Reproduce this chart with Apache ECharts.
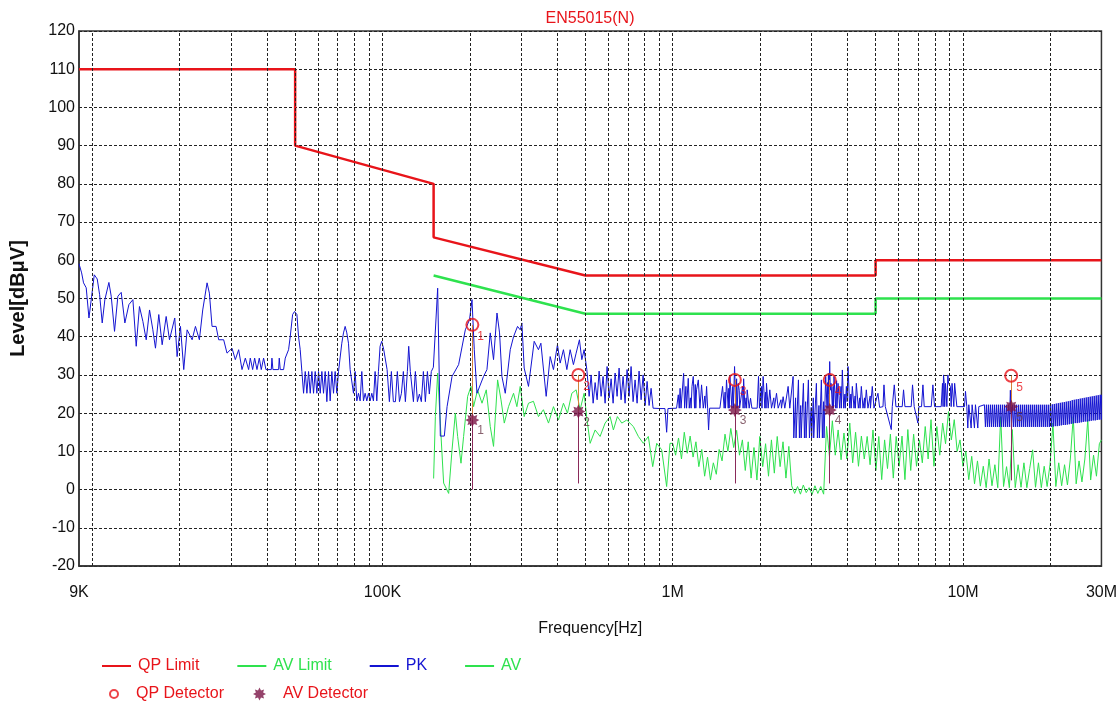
<!DOCTYPE html>
<html>
<head>
<meta charset="utf-8">
<script src="https://cdn.jsdelivr.net/npm/echarts@6/dist/echarts.min.js"></script>
<style>
  html, body { margin: 0; padding: 0; background: #fff; }
  #chart { width: 1120px; height: 705px; }
</style>
</head>
<body>
<div id="chart"></div>
<script>
// frequencies in kHz, levels in dBuV

const qpLimitFreq = [9, 50, 50, 150, 150, 500, 5000, 5000, 30000];
const qpLimitLevel = [110, 110, 90, 80, 66, 56, 56, 60, 60];

const avLimitFreq = [150, 500, 5000, 5000, 30000];
const avLimitLevel = [56, 46, 46, 50, 50];

// detector readings (marker number, frequency, QP, AV, bottom of the stick)
const detLabels = ['1', '2', '3', '4', '5'];
const detFreq = [204, 473, 1637, 3475, 14660];
const qpLevel = [43.1, 30.0, 28.7, 28.7, 29.8];
const avLevel = [18.2, 20.4, 20.8, 20.8, 21.7];
const stickBottom = [0.0, 1.6, 1.6, 1.6, 2.4];

const xTickValues = [9, 100, 1000, 10000, 30000];
const xTickLabels = ['9K', '100K', '1M', '10M', '30M'];
const gridFreqs = [10, 20, 30, 40, 50, 60, 70, 80, 90,
  100, 200, 300, 400, 500, 600, 700, 800, 900,
  1000, 2000, 3000, 4000, 5000, 6000, 7000, 8000, 9000,
  10000, 20000];

const pkData = [
  [9.0,59.1],[9.19,56.7],[9.33,54.1],[9.53,52.8],[9.74,44.9],[9.95,50.6],[10.16,56.2],[10.40,55.1],[10.60,51.0],
  [10.82,43.6],[11.05,49.7],[11.41,54.2],[11.62,50.6],[11.93,41.4],[12.25,50.6],[12.58,51.6],[12.95,43.6],
  [13.37,48.4],[13.80,49.7],[14.17,37.5],[14.54,47.9],[14.94,44.0],[15.34,39.2],[15.75,47.0],[16.17,41.8],
  [16.51,37.0],[16.95,45.8],[17.41,37.9],[17.97,45.3],[18.45,39.2],[19.24,44.9],[19.60,34.8],[20.13,42.7],
  [20.66,31.4],[21.22,41.8],[22.08,39.2],[22.67,42.7],[23.39,39.2],[24.02,47.0],[24.86,54.1],[25.32,51.4],
  [25.86,42.7],[26.70,42.7],[27.26,39.2],[28.36,39.2],[29.12,35.7],[30.30,37.0],[31.11,34.0],[31.94,36.6],
  [32.80,31.4],[33.68,34.4],[34.57,31.4],[35.03,34.4],[35.69,31.4],[36.26,34.4],[36.94,31.4],[37.62,34.4],
  [38.22,31.4],[38.93,34.4],[39.66,31.4],[41.38,31.4],[41.59,34.4],[41.92,31.4],[43.85,31.4],[44.08,34.4],
  [44.43,31.4],[45.62,31.4],[46.23,34.4],[47.46,36.6],[48.09,40.0],[49.0,45.8],[49.77,46.6],[50.71,45.8],
  [51.37,40.0],[52.05,36.6],[52.75,30.9],[53.46,25.2],[54.17,30.9],[54.88,25.2],[55.62,30.9],[56.36,25.2],
  [57.10,30.9],[57.86,25.2],[58.63,30.9],[59.40,25.2],[60.20,30.9],[61.00,25.2],[61.81,30.9],[62.63,25.2],
  [63.46,30.9],[64.30,23.0],[65.16,30.9],[66.02,23.2],[66.90,30.9],[67.79,25.2],[68.69,30.9],[69.60,25.2],
  [70.53,30.9],[72.4,38.3],[73.38,41.0],[74.35,42.7],[75.34,41.0],[76.34,38.3],[77.35,31.4],[78.39,30.9],
  [79.43,25.2],[80.48,30.9],[81.56,23.2],[82.64,25.2],[83.73,23.2],[84.85,30.9],[85.98,23.2],[87.12,25.2],
  [88.29,23.2],[89.45,25.2],[90.64,23.2],[91.86,25.2],[93.06,23.2],[94.30,30.9],[95.56,23.2],[96.83,30.9],
  [98.1,37.5],[99.4,38.8],[101.0,36.6],[103.7,31.4],[105.6,23.0],[107.3,30.9],[109.0,23.0],[110.8,23.0],
  [112.5,30.9],[114.4,23.0],[116.2,25.2],[118.0,30.9],[119.9,23.0],[121.8,30.9],[123.1,37.5],[124.7,30.9],
  [127.8,23.0],[129.8,30.9],[131.9,23.0],[134.0,25.0],[136.1,23.0],[138.3,30.9],[140.5,23.0],[142.8,30.9],
  [145.0,25.0],[147.3,30.9],[149.7,32.0],
  [154.9,52.7],[158.2,14.0],[163.3,14.0],[166.9,21.7],[173.6,29.6],[182.9,32.7],[192.9,41.8],[199.5,44.5],
  [203.4,49.7],[207.1,36.6],[211.6,25.2],[222.9,29.6],[229.0,31.4],[235.1,41.0],[241.3,34.0],[248.0,46.2],
  [253.1,41.0],[257.9,29.6],[264.8,25.2],[275.5,36.6],[282.8,40.0],[291.9,42.7],[298.2,41.8],[302.2,43.6],
  [307.7,31.8],[318.4,27.0],[333.1,38.8],[344.6,36.6],[351.3,38.3],[366.4,24.4],[378.2,34.8],[388.2,31.4],
  [400.7,37.9],[409.4,33.1],[420.2,36.6],[431.7,31.4],[443.1,36.6],[454.8,32.7],[464.7,35.7],[477.0,39.2],
  [486.2,34.0],[495.1,36.6],[505.8,31.4],[515.2,24.4],[523.4,30.0],[531.8,22.6],[540.3,28.0],[548.9,23.5],
  [557.6,31.0],[566.5,24.4],[575.4,29.6],[584.8,22.6],[594.0,32.2],[603.6,24.0],[613.3,29.0],[623.1,22.6],
  [633.1,30.5],[643.1,24.4],[653.4,31.8],[663.7,23.5],[674.4,29.6],[685.2,22.6],[696.2,31.4],[707.3,24.4],
  [718.6,32.2],[730.2,23.0],[741.8,28.7],[753.7,22.6],[765.6,31.0],[778.1,23.5],[790.5,30.0],[803.2,22.0],
  [816.0,28.3],[829.0,22.0],[842.3,26.5],[855.7,21.3],[903.6,21.2],[940.2,21.2],[952.8,15.0],[962.7,21.2],
  [1031,21.3],[1045,24.8],[1053,21.3],[1060,26.5],[1068,21.3],[1081,21.3],[1090,30.4],[1099,21.3],[1110,27.0],
  [1116,21.3],[1122,21.3],[1131,29.1],[1140,21.3],[1150,24.0],[1157,21.3],[1165,27.0],[1177,29.6],[1189,21.3],
  [1196,27.5],[1201,21.3],[1208,26.1],[1225,28.7],[1241,21.3],[1257,27.4],[1274,21.3],[1290,24.5],[1297,21.3],
  [1308,27.0],[1319,21.3],[1329,15.6],[1340,21.3],[1454,21.3],[1485,27.0],[1504,21.3],[1515,25.5],[1520,21.3],
  [1532,28.7],[1553,21.3],[1560,26.5],[1565,21.3],[1574,29.6],[1599,21.3],[1610,27.0],[1618,21.3],[1633,32.2],
  [1651,21.3],[1660,29.0],[1667,21.3],[1682,27.8],[1695,26.0],[1700,21.3],[1713,21.3],[1740,27.0],[1748,21.3],
  [1755,29.0],[1773,21.3],[1790,24.0],[1797,21.3],[1805,26.1],[1834,21.3],[1854,23.9],[1874,21.3],[1954,21.3],
  [1975,29.6],[1990,21.3],[2006,21.3],[2020,27.0],[2030,21.3],[2049,29.6],[2077,21.3],[2090,25.5],[2097,21.3],
  [2104,27.8],[2132,21.3],[2160,26.1],[2189,21.3],[2230,24.0],[2240,21.3],[2278,25.2],[2308,21.3],[2360,23.5],
  [2370,21.3],[2401,24.3],[2433,21.3],[2498,27.0],[2531,21.3],[2599,29.6],[2613,13.5],[2650,24.0],[2660,13.5],
  [2697,13.5],[2711,28.7],[2732,13.5],[2760,22.0],[2770,13.5],[2798,13.5],[2820,27.8],[2843,13.5],[2870,23.0],
  [2880,13.5],[2911,13.5],[2934,28.7],[2958,13.5],[3000,21.5],[3010,13.5],[3050,24.0],[3060,13.5],[3102,13.5],
  [3126,27.8],[3151,13.5],[3190,22.0],[3200,13.5],[3227,13.5],[3252,28.7],[3278,13.5],[3310,23.0],[3320,13.5],
  [3348,13.5],[3365,29.6],[3401,21.3],[3420,28.0],[3430,21.3],[3438,30.4],[3460,25.0],[3474,33.5],[3490,26.0],
  [3511,27.8],[3530,25.0],[3548,21.3],[3570,27.0],[3580,21.3],[3595,29.6],[3620,25.5],[3643,21.3],[3670,28.5],
  [3680,21.3],[3711,27.8],[3735,25.0],[3760,21.3],[3800,27.0],[3810,21.3],[3841,31.3],[3882,21.3],[3920,25.0],
  [3930,21.3],[3965,27.0],[3990,23.0],[4018,32.2],[4071,21.3],[4110,25.0],[4120,21.3],[4158,27.0],[4213,21.3],
  [4250,24.5],[4260,21.3],[4291,27.8],[4360,21.3],[4410,24.0],[4420,21.3],[4465,27.0],[4524,21.3],[4580,24.0],
  [4590,21.3],[4645,26.1],[4706,21.3],[4790,24.5],[4800,21.3],[4871,27.0],[4936,21.3],[5094,25.2],[5162,21.5],
  [5302,21.7],[5344,27.4],[5400,21.7],[5662,15.7],[5707,21.7],[5799,27.4],[5875,21.7],[6176,21.7],[6242,26.1],
  [6310,21.7],[6632,21.7],[6703,27.4],[6792,21.7],[6992,17.4],[7048,21.7],[7199,21.7],[7278,27.4],[7355,21.7],
  [7774,21.7],[7877,27.4],[7982,21.7],[8414,21.7],[8500,27.8],[8540,21.7],[8570,30.0],[8620,27.8],[8650,21.7],
  [8707,27.8],[8760,27.8],[8800,21.7],[8872,30.0],[8920,27.8],[8989,27.8],[9050,27.0],[9108,21.7],[9170,27.8],
  [9230,27.8],[9300,21.7],[9360,27.8],[9426,27.8],[9527,21.7],[10122,21.7],[10202,25.7],[10310,21.7],
  [10392,16.1],[10474,22.2],[10670,16.1],[10755,22.2],[10955,16.1],[11042,22.2],[11250,16.1],[11338,21.7],
  [11855,22.2],[11949,16.4],[12044,22.2],[12140,16.4],[12236,22.2],[12334,16.4],[12432,22.2],[12531,16.4],
  [12630,22.2],[12731,16.4],[12832,22.2],[12934,16.4],[13037,22.2],[13140,16.4],[13245,22.2],[13350,16.4],
  [13456,22.2],[13563,16.4],[13671,22.2],[13780,16.4],[13890,22.2],[14000,16.4],[14111,22.2],[14224,16.4],
  [14337,22.2],[14451,16.4],[14566,26.0],[14681,16.4],[14798,22.2],[14916,16.4],[15035,22.2],[15154,16.4],
  [15275,22.2],[15396,16.4],[15519,22.2],[15642,16.4],[15766,22.2],[15892,16.4],[16018,22.2],[16145,16.4],
  [16274,22.2],[16403,16.4],[16534,22.2],[16665,16.4],[16798,22.2],[16931,16.4],[17066,22.2],[17202,16.4],
  [17338,22.2],[17476,16.4],[17615,22.2],[17755,16.4],[17896,22.2],[18039,16.4],[18182,22.2],[18327,16.4],
  [18472,22.2],[18619,16.4],[18767,22.2],[18916,16.4],[19067,22.2],[19218,16.4],[19371,22.2],[19525,16.4],
  [19680,22.2],[19837,16.4],[19995,22.2],[20154,16.4],[20314,22.3],[20475,16.5],[20639,22.4],[20803,16.6],
  [20968,22.5],[21135,16.6],[21303,22.6],[21472,16.7],[21643,22.7],[21815,16.8],[21988,22.8],[22163,16.9],
  [22340,22.9],[22517,16.9],[22696,23.0],[22877,17.0],[23059,23.1],[23242,17.1],[23427,23.2],[23613,17.2],
  [23801,23.4],[23990,17.3],[24181,23.5],[24373,17.4],[24567,23.6],[24762,17.4],[24959,23.7],[25157,17.5],
  [25357,23.8],[25559,17.6],[25762,23.9],[25967,17.7],[26174,24.0],[26382,17.8],[26592,24.1],[26803,17.8],
  [27016,24.2],[27231,17.9],[27447,24.3],[27666,18.0],[27886,24.4],[28107,18.1],[28332,24.5],[28557,18.1],
  [28784,24.6],[29013,18.2],[29243,24.7],[29476,18.3],[29710,24.8],[29946,18.3],[30000,24.8]
];

const avData = [
  [150,2.9],[152.1,19.1],[154.9,30.5],[158.2,17.4],[162.4,1.7],[169.0,-1.0],[173.6,10.4],[178.2,20.0],
  [181.5,13.9],[186.4,6.9],[190.3,13.9],[196.5,24.4],[201.8,27.0],[206.0,21.7],[212.6,26.1],[220.2,22.6],
  [227.8,26.1],[235.1,16.5],[241.3,11.3],[249.2,28.7],[256.0,23.5],[262.8,17.4],[271.8,21.7],[282.8,25.2],
  [290.4,21.7],[298.2,27.0],[307.7,19.1],[318.4,22.6],[331.2,23.1],[344.6,19.1],[358.5,20.9],[373.2,17.4],
  [388.2,21.7],[403.9,18.2],[420.2,22.6],[433.8,20.0],[449.1,25.2],[464.7,26.1],[479.5,20.9],[495.1,25.2],
  [505.8,18.7],[519.3,12.1],[540.3,15.6],[562.0,13.9],[584.8,17.4],[608.4,19.1],[624.5,15.6],[644.7,19.1],
  [667.4,17.4],[694.4,18.2],[731.6,16.5],[761.3,13.9],[792.0,12.1],[824.0,13.9],[853.1,6.0],[880.6,12.1],
  [916.2,10.4],[952.8,0.8],[978.3,12.1],
  [1000,12.1],[1023,9.0],[1047,13.5],[1072,8.0],[1096,15.0],[1122,9.5],[1148,14.0],[1175,8.5],[1202,12.5],
  [1230,6.0],[1259,10.5],[1288,3.5],[1318,8.5],[1349,2.5],[1380,7.0],[1413,4.0],[1445,10.5],[1479,7.5],
  [1514,14.5],[1549,10.0],[1585,16.0],[1622,11.0],[1660,15.5],[1698,9.0],[1738,13.0],[1778,5.0],[1820,12.5],
  [1862,3.0],[1905,11.0],[1950,2.5],[1995,13.9],[2042,6.0],[2089,12.0],[2138,3.5],[2188,13.0],[2239,4.3],
  [2291,13.9],[2344,6.0],[2399,12.5],[2455,3.0],[2512,11.3],[2570,1.0],[2630,-1.0],[2692,0.8],[2754,-1.2],
  [2818,1.2],[2884,-0.8],[2951,0.5],[3020,-1.3],[3090,1.0],[3162,-1.0],[3236,0.8],[3311,-1.2],[3388,16.5],
  [3467,8.7],[3548,18.0],[3631,9.0],[3715,15.6],[3802,7.8],[3890,14.8],[3981,8.0],[4074,17.4],[4169,7.0],
  [4266,15.0],[4365,6.1],[4467,14.0],[4571,8.0],[4677,13.9],[4786,6.5],[4898,15.6],[5012,5.0],[5129,13.9],
  [5248,2.6],[5370,13.0],[5495,5.5],[5623,14.5],[5754,3.0],[5888,13.9],[6026,6.1],[6166,14.0],[6310,2.6],
  [6457,15.7],[6607,5.0],[6761,14.5],[6918,6.1],[7079,13.0],[7244,7.0],[7413,16.5],[7586,8.0],[7762,18.3],
  [7943,6.1],[8128,16.5],[8318,9.0],[8511,17.4],[8710,12.0],[8913,20.4],[9120,13.0],[9333,18.3],[9550,10.0],
  [9772,13.0],[10000,6.1],[10230,10.0],[10470,2.6],[10720,8.7],[10960,1.5],[11220,7.5],[11480,0.9],
  [11750,6.1],[12020,0.5],[12300,8.0],[12590,1.0],[12880,6.5],[13180,0.5],[13490,19.1],[13800,0.8],
  [14130,6.0],[14450,0.5],[14790,15.7],[15140,0.5],[15490,6.5],[15850,0.6],[16220,7.0],[16600,0.5],
  [16980,5.5],[17380,10.4],[17780,0.6],[18200,7.0],[18620,0.5],[19050,6.1],[19500,0.8],[19950,6.5],
  [20420,17.4],[20890,0.8],[21380,7.0],[21880,1.0],[22390,6.5],[22910,1.2],[23440,8.0],[23990,19.1],
  [24550,1.5],[25120,7.5],[25700,2.0],[26300,8.0],[26920,18.3],[27540,2.5],[28180,9.0],[28840,3.5],
  [29510,12.0],[30000,13.0]
];

const FONT = '"Liberation Sans", Arial, sans-serif';
const RED = '#e8141a';
const GREEN = '#2ee24e';
const BLUE = '#1414d2';
const MAROON = '#7a1446';
const STAR = 'path://M20,10L15.54,12.3L17.07,17.07L12.3,15.54L10,20L7.7,15.54L2.93,17.07L4.46,12.3L0,10L4.46,7.7L2.93,2.93L7.7,4.46L10,0L12.3,4.46L17.07,2.93L15.54,7.7Z';

const pairs = (xs, ys) => xs.map((x, i) => [x, ys[i]]);

const chart = echarts.init(document.getElementById('chart'));

chart.setOption({
    animation: false,
    textStyle: { fontFamily: FONT },
    title: {
        text: 'EN55015(N)',
        left: 590,
        top: 11,
        padding: 0,
        textAlign: 'center',
        textStyle: { color: RED, fontSize: 16, fontWeight: 'normal', fontFamily: FONT }
    },
    grid: {
        left: 78, right: 18, top: 31, bottom: 139,
        show: true, borderColor: '#333', borderWidth: 1.5, backgroundColor: '#fff'
    },
    legend: [
        {
            left: 97, top: 653,
            icon: 'rect', itemWidth: 29, itemHeight: 2, itemGap: 38,
            selectedMode: false,
            textStyle: { fontSize: 16, fontFamily: FONT, padding: [0, 0, 0, 2] },
            data: [
                { name: 'QP Limit', textStyle: { color: RED } },
                { name: 'AV Limit', textStyle: { color: GREEN } },
                { name: 'PK', textStyle: { color: BLUE } },
                { name: 'AV', textStyle: { color: GREEN } }
            ]
        },
        {
            left: 104, top: 681,
            itemWidth: 8, itemHeight: 8,
            selectedMode: false,
            textStyle: { fontSize: 16, fontFamily: FONT, color: RED, padding: [0, 0, 0, 13] },
            data: [
                { name: 'QP Detector', icon: 'circle', itemStyle: { color: 'transparent', borderColor: RED, borderWidth: 2 } }
            ]
        },
        {
            left: 248, top: 681,
            itemWidth: 13, itemHeight: 13,
            selectedMode: false,
            textStyle: { fontSize: 16, fontFamily: FONT, color: RED, padding: [0, 0, 0, 12] },
            data: [
                { name: 'AV Detector', icon: STAR, itemStyle: { color: MAROON } }
            ]
        }
    ],
    xAxis: {
        type: 'log',
        logBase: 10,
        min: 9,
        max: 30000,
        name: 'Frequency[Hz]',
        nameLocation: 'middle',
        nameGap: 55,
        nameTextStyle: { fontSize: 16, color: '#111', fontFamily: FONT },
        axisLine: { show: true, onZero: false, lineStyle: { color: '#333', width: 1.5 } },
        axisTick: { show: false },
        splitLine: { show: false },
        axisLabel: {
            margin: 19,
            fontSize: 16,
            color: '#111',
            showMinLabel: true,
            showMaxLabel: true,
            formatter: v => {
                const i = xTickValues.findIndex(t => Math.abs(t - v) / t < 1e-6);
                return i >= 0 ? xTickLabels[i] : '';
            }
        }
    },
    yAxis: {
        type: 'value',
        min: -20,
        max: 120,
        interval: 10,
        name: 'Level[dBμV]',
        nameLocation: 'middle',
        nameGap: 51,
        nameTextStyle: { fontSize: 20, fontWeight: 'bold', color: '#111', fontFamily: FONT },
        axisLine: { show: true, lineStyle: { color: '#333', width: 1.5 } },
        axisTick: { show: false },
        axisLabel: { margin: 4, fontSize: 16, color: '#111' },
        splitLine: { show: true, lineStyle: { color: '#222', type: [3, 2], width: 1 } }
    },
    series: [
        {
            // vertical log grid
            name: 'grid',
            type: 'line',
            data: [],
            silent: true,
            z: 1,
            markLine: {
                silent: true,
                symbol: ['none', 'none'],
                label: { show: false },
                lineStyle: { color: '#222', type: [3, 2], width: 1 },
                data: gridFreqs.map(f => ({ xAxis: f }))
            }
        },
        {
            name: 'AV',
            type: 'line',
            data: avData,
            showSymbol: false,
            silent: true,
            z: 2,
            lineStyle: { color: GREEN, width: 1 },
            itemStyle: { color: GREEN }
        },
        {
            name: 'PK',
            type: 'line',
            data: pkData,
            showSymbol: false,
            silent: true,
            z: 3,
            lineStyle: { color: BLUE, width: 1 },
            itemStyle: { color: BLUE }
        },
        {
            name: 'AV Limit',
            type: 'line',
            data: pairs(avLimitFreq, avLimitLevel),
            showSymbol: false,
            silent: true,
            z: 4,
            lineStyle: { color: GREEN, width: 2.5 },
            itemStyle: { color: GREEN }
        },
        {
            name: 'QP Limit',
            type: 'line',
            data: pairs(qpLimitFreq, qpLimitLevel),
            showSymbol: false,
            silent: true,
            z: 4,
            lineStyle: { color: RED, width: 2.5 },
            itemStyle: { color: RED }
        },
        {
            name: 'AV Detector',
            type: 'scatter',
            symbol: STAR,
            symbolSize: 14,
            silent: true,
            z: 6,
            itemStyle: { color: MAROON },
            label: { show: true, formatter: '{b}', position: [12, 12], fontSize: 12, color: '#6a3a4a' },
            data: detFreq.map((f, i) => ({ name: detLabels[i], value: [f, avLevel[i]] })),
            markLine: {
                silent: true,
                symbol: ['none', 'none'],
                label: { show: false },
                lineStyle: { color: '#8a2a5a', type: 'solid', width: 1 },
                data: detFreq.map((f, i) => [{ coord: [f, avLevel[i]] }, { coord: [f, stickBottom[i]] }])
            }
        },
        {
            name: 'QP Detector',
            type: 'scatter',
            symbol: 'circle',
            symbolSize: 12,
            silent: true,
            z: 7,
            itemStyle: { color: 'transparent', borderColor: RED, borderWidth: 2 },
            label: { show: true, formatter: '{b}', position: [12, 13], fontSize: 12, color: RED },
            data: detFreq.map((f, i) => ({ name: detLabels[i], value: [f, qpLevel[i]] })),
            markLine: {
                silent: true,
                symbol: ['none', 'none'],
                label: { show: false },
                lineStyle: { color: '#d4803a', type: 'solid', width: 1 },
                data: detFreq.map((f, i) => [{ coord: [f, qpLevel[i]] }, { coord: [f, avLevel[i]] }])
            }
        }
    ]
});
</script>
</body>
</html>
